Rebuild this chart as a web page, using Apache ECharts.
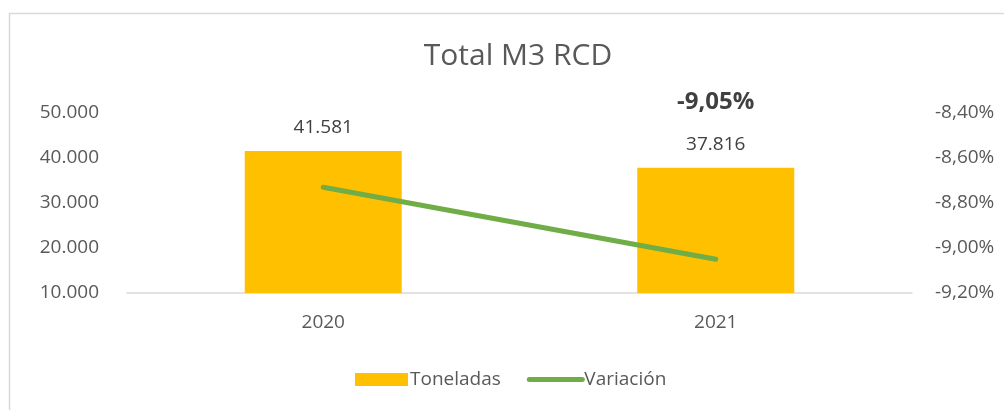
<!DOCTYPE html>
<html>
<head>
<meta charset="utf-8">
<script src="https://cdn.jsdelivr.net/npm/echarts@6/dist/echarts.min.js"></script>
<style>
  html, body { margin: 0; padding: 0; background: #fff; }
  #main { width: 1004px; height: 410px; }
</style>
</head>
<body>
<div id="main"></div>
<script>
// datos del grafico
var categories = ['2020', '2021']
var toneladas = [41581, 37816]
var variacion = [-8.73, -9.05]
var leftTicks = { min: 10000, max: 50000, step: 10000 }
var rightTicks = { min: -9.2, max: -8.4, step: 0.2 }

var font = '"Open Sans", "Noto Sans", sans-serif'
var grey = '#595959'
var green = '#70AD47'

function miles (v) {
  return String(Math.round(v)).replace(/\B(?=(\d{3})+(?!\d))/g, '.')
}
function pct (v) {
  return v.toFixed(2).replace('.', ',') + '%'
}

var chart = echarts.init(document.getElementById('main'))
var option = {
  animation: false,
  color: ['#FFC000', green],
  graphic: [{
    type: 'rect',
    shape: { x: 9.5, y: 13.5, width: 1200, height: 600 },
    style: { fill: 'none', stroke: '#D9D9D9', lineWidth: 1.5 },
    silent: true
  }],
  title: {
    text: 'Total M3 RCD',
    left: 513,
    top: 36,
    textAlign: 'center',
    textStyle: { color: grey, fontFamily: font, fontSize: 30, fontWeight: 'normal' }
  },
  legend: {
    bottom: 16,
    left: 350,
    itemGap: 26,
    itemWidth: 53,
    itemHeight: 13,
    textStyle: { color: grey, fontFamily: font, fontSize: 19, padding: [0, 0, 0, -3] },
    data: [
      { name: 'Toneladas', icon: 'rect' },
      { name: 'Variación', itemStyle: { opacity: 0 }, lineStyle: { width: 5, cap: 'round', color: green } }
    ]
  },
  grid: { left: 127, right: 92, top: 113, bottom: 117, containLabel: false },
  xAxis: {
    type: 'category',
    data: categories,
    axisTick: { show: false },
    axisLine: { lineStyle: { color: '#D9D9D9', width: 1.5 } },
    axisLabel: { color: grey, fontFamily: font, fontSize: 19, margin: 20 }
  },
  yAxis: [
    {
      type: 'value',
      min: leftTicks.min,
      max: leftTicks.max,
      interval: leftTicks.step,
      splitLine: { show: false },
      axisLine: { show: false },
      axisTick: { show: false },
      axisLabel: { color: grey, fontFamily: font, fontSize: 19, margin: 28, formatter: miles }
    },
    {
      type: 'value',
      min: rightTicks.min,
      max: rightTicks.max,
      interval: rightTicks.step,
      splitLine: { show: false },
      axisLine: { show: false },
      axisTick: { show: false },
      axisLabel: { color: grey, fontFamily: font, fontSize: 19, margin: 23, formatter: pct }
    }
  ],
  series: [
    {
      name: 'Toneladas',
      type: 'bar',
      barWidth: '40%',
      yAxisIndex: 0,
      data: toneladas,
      label: {
        show: true,
        position: 'top',
        distance: 14,
        color: '#404040',
        fontFamily: font,
        fontSize: 19,
        formatter: function (p) { return miles(p.value) }
      }
    },
    {
      name: 'Variación',
      type: 'line',
      yAxisIndex: 1,
      symbol: 'circle',
      symbolSize: 2,
      showSymbol: true,
      itemStyle: { color: green },
      lineStyle: { width: 5, color: green, cap: 'round' },
      data: variacion.map(function (v, i) {
        if (i === variacion.length - 1) {
          return {
            value: v,
            label: {
              show: true,
              position: 'top',
              offset: [0, -139],
              color: '#404040',
              fontFamily: font,
              fontSize: 24,
              fontWeight: 'bold',
              formatter: function (p) { return pct(p.value) }
            }
          }
        }
        return v
      })
    }
  ]
}
chart.setOption(option, true)
</script>
</body>
</html>
